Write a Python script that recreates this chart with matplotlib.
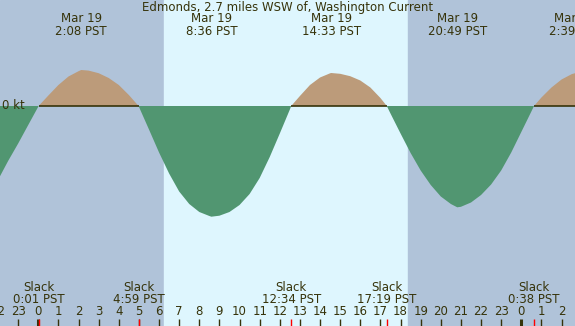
import matplotlib as mpl
mpl.use('Agg')
import matplotlib.pyplot as plt
import matplotlib.transforms as mtransforms
import numpy as np

## 潮流データ (Mar 19 0:00 PST からの時間, kt)
hours = [-1.91, -1.5, -1.0, -0.5, 0.017,
         0.5, 1.0, 1.5, 2.0, 2.133, 2.5, 3.0, 3.5, 4.0, 4.5, 4.983,
         5.5, 6.0, 6.5, 7.0, 7.5, 8.0, 8.5, 8.6, 9.0, 9.5, 10.0, 10.5,
         11.0, 11.5, 12.0, 12.5, 12.567,
         13.0, 13.5, 14.0, 14.5, 14.55, 15.0, 15.5, 16.0, 16.5, 17.0, 17.317,
         17.5, 18.0, 18.5, 19.0, 19.5, 20.0, 20.5, 20.817, 21.0, 21.5, 22.0,
         22.5, 23.0, 23.5, 24.0, 24.5, 24.633,
         25.0, 25.5, 26.0, 26.5, 26.65, 26.7]
speed = [-0.705, -0.55, -0.375, -0.19, 0.0,
         0.105, 0.21, 0.295, 0.348, 0.36, 0.354, 0.328, 0.28, 0.21, 0.11, 0.0,
         -0.235, -0.465, -0.675, -0.855, -0.98, -1.06, -1.10, -1.107, -1.097, -1.06, -0.99, -0.88,
         -0.72, -0.51, -0.275, -0.035, 0.0,
         0.10, 0.21, 0.285, 0.327, 0.33, 0.322, 0.298, 0.255, 0.185, 0.08, 0.0,
         -0.075, -0.275, -0.47, -0.645, -0.79, -0.905, -0.98, -1.013, -1.008, -0.965, -0.89,
         -0.785, -0.645, -0.465, -0.26, -0.055, 0.0,
         0.085, 0.185, 0.265, 0.318, 0.327, 0.327]

## 極値とスラック
max_hours = [2.133, 8.6, 14.55, 20.817, 26.65]
max_dates = ['Mar 19', 'Mar 19', 'Mar 19', 'Mar 19', 'Mar 20']
max_times = ['2:08 PST', '8:36 PST', '14:33 PST', '20:49 PST', '2:39 PST']
slack_hours = [0.017, 4.983, 12.567, 17.317, 24.633]
slack_times = ['0:01 PST', '4:59 PST', '12:34 PST', '17:19 PST', '0:38 PST']

## 日の出・日の入り
sunrise, sunset = 6.25, 18.37
TITLE = 'Edmonds, 2.7 miles WSW of, Washington Current'

NIGHT = '#b0c3d9'
DAY = '#def6fe'
EBB = '#bc9b7a'
FLOOD = '#519671'
FG = '#36330a'
FS = 8.5

W, H = 575, 326
fig = plt.figure(figsize=(W/100, H/100), dpi=100)
ax = fig.add_axes([0, 0, 1, 1])
ax.set_xlim(-38.3/20.125, (W-38.3)/20.125)
ax.set_ylim(-(H-106)/100, 106/100)
ax.axis('off')
x0, x1 = ax.get_xlim()

ax.axvspan(x0, sunrise, color=NIGHT, zorder=0)
ax.axvspan(sunrise, sunset, color=DAY, zorder=0)
ax.axvspan(sunset, x1, color=NIGHT, zorder=0)

h = np.array(hours)
s = np.array(speed)
ax.fill_between(h, s, 0, where=s >= 0, interpolate=True, color=EBB, lw=0, zorder=2)
ax.fill_between(h, s, 0, where=s <= 0, interpolate=True, color=FLOOD, lw=0, zorder=2)

# 0 kt 線は上げ潮側だけ
ebb_start = [slack_hours[0], slack_hours[2], slack_hours[4]]
ebb_end = [slack_hours[1], slack_hours[3], x1]
ax.hlines([0]*len(ebb_start), ebb_start, ebb_end, color=FG, lw=1.2, zorder=3)

ax.text(2/W, 0.0, '0 kt', transform=mtransforms.blended_transform_factory(ax.transAxes, ax.transData),
        ha='left', va='center', fontsize=FS, color=FG, zorder=5)

def yf(py):
    return 1 - py/H

trans = mtransforms.blended_transform_factory(ax.transData, ax.transAxes)
ax.text(0.5, yf(7.3), TITLE, transform=ax.transAxes, ha='center', va='center', fontsize=FS, color=FG)
for x, d, t in zip(max_hours, max_dates, max_times):
    ax.text(x, yf(19), d, transform=trans, ha='center', va='center', fontsize=FS, color=FG)
    ax.text(x, yf(31.7), t, transform=trans, ha='center', va='center', fontsize=FS, color=FG)
for x, t in zip(slack_hours, slack_times):
    ax.text(x, yf(287.3), 'Slack', transform=trans, ha='center', va='center', fontsize=FS, color=FG)
    ax.text(x, yf(299.5), t, transform=trans, ha='center', va='center', fontsize=FS, color=FG)

# 時刻目盛り
for hr in range(-2, 27):
    ax.text(hr, yf(311.7), str(hr % 24), transform=trans, ha='center', va='center', fontsize=FS, color=FG)
    lw = 2.2 if hr % 24 == 0 else 1.0
    ax.vlines(hr, 0, 7/H, transform=trans, color=FG, lw=lw, zorder=5)
ax.vlines(slack_hours, 0, 7/H, transform=trans, color='red', lw=1.0, zorder=6)

plt.savefig('out.png', dpi=100)
plt.close(fig)
